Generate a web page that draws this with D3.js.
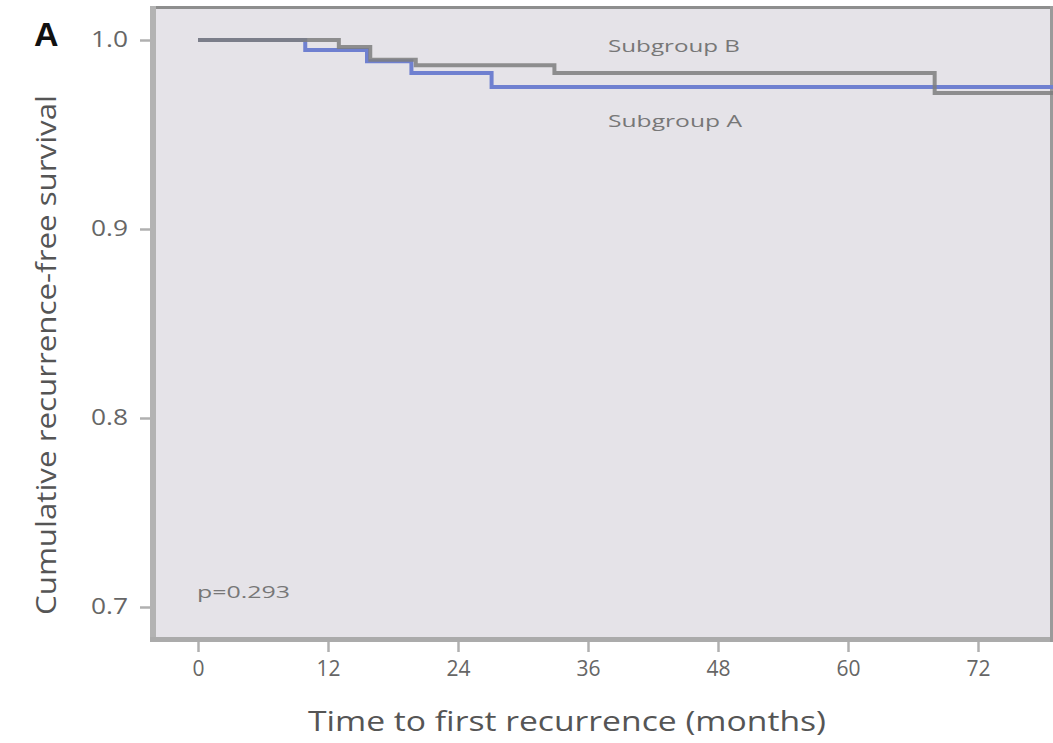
<!DOCTYPE html>
<html>
<head>
<meta charset="utf-8">
<script src="https://cdn.jsdelivr.net/npm/d3@7"></script>
<style>
  html, body { margin: 0; padding: 0; background: #fff; }
  svg { display: block; }
  text { font-family: "Open Sans", "Noto Sans", sans-serif; }
</style>
</head>
<body>
<svg id="chart" width="1053" height="743"></svg>
<script>
// ---- data ----
const timesA = [0, 9.9, 15.6, 19.7, 27.1];
const survA  = [1.0, 0.9947, 0.9887, 0.9825, 0.9751];
const timesB = [0, 13.0, 15.9, 20.1, 32.9, 68.0];
const survB  = [1.0, 0.9963, 0.9895, 0.9866, 0.9825, 0.9720];
const followUpEnd = 80;
const xTicks = [0, 12, 24, 36, 48, 60, 72];
const yTicks = [0.7, 0.8, 0.9, 1.0];
const seriesNames = ["Subgroup A", "Subgroup B"];
const pValueLabel = "p=0.293";

// ---- layout ----
const svg = d3.select("#chart");
const plot = { left: 155, right: 1053, top: 8, bottom: 640 };
const x = d3.scaleLinear().domain([0, 72]).range([198, 978]);
const y = d3.scaleLinear().domain([0.7, 1.0]).range([607, 40]);

svg.append("defs").append("clipPath").attr("id", "clip")
  .append("rect").attr("x", plot.left).attr("y", plot.top)
  .attr("width", plot.right - plot.left).attr("height", plot.bottom - plot.top);

// background
svg.append("rect").attr("x", plot.left).attr("y", plot.top)
  .attr("width", plot.right - plot.left).attr("height", plot.bottom - plot.top)
  .attr("fill", "#e5e3e8");

// frame
svg.append("line").attr("x1", 150).attr("x2", 1053).attr("y1", 7.5).attr("y2", 7.5)
  .attr("stroke", "#8e8e8e").attr("stroke-width", 3);
svg.append("line").attr("x1", 153).attr("x2", 153).attr("y1", 6).attr("y2", 642)
  .attr("stroke", "#b3b3b3").attr("stroke-width", 6);
svg.append("line").attr("x1", 150).attr("x2", 1053).attr("y1", 639.5).attr("y2", 639.5)
  .attr("stroke", "#ababab").attr("stroke-width", 5);
svg.append("line").attr("x1", 1051.5).attr("x2", 1051.5).attr("y1", 6).attr("y2", 642)
  .attr("stroke", "#9a9a9a").attr("stroke-width", 3);

// axes
const yAxis = svg.append("g").attr("transform", "translate(150,0)")
  .call(d3.axisLeft(y).tickValues(yTicks).tickFormat(d3.format(".1f")).tickSize(10).tickPadding(12));
yAxis.select(".domain").remove();
yAxis.selectAll(".tick line").attr("stroke", "#b0b0b0").attr("stroke-width", 2.5);
yAxis.selectAll(".tick text").attr("fill", "#666").attr("font-size", 21)
  .attr("textLength", 37).attr("lengthAdjust", "spacingAndGlyphs");

const xAxis = svg.append("g").attr("transform", "translate(0,642)")
  .call(d3.axisBottom(x).tickValues(xTicks).tickFormat(d3.format("d")).tickSize(10).tickPadding(9));
xAxis.select(".domain").remove();
xAxis.selectAll(".tick line").attr("stroke", "#b0b0b0").attr("stroke-width", 2.5);
xAxis.selectAll(".tick text").attr("fill", "#666").attr("font-size", 21);

// curves
const line = d3.line().x(d => x(d[0])).y(d => y(d[1])).curve(d3.curveStepAfter);
function pts(ts, ss) {
  const p = ts.map((t, i) => [t, ss[i]]);
  p.push([followUpEnd, ss[ss.length - 1]]);
  return p;
}
const g = svg.append("g").attr("clip-path", "url(#clip)");
g.append("path").datum(pts(timesA, survA))
  .attr("d", line).attr("fill", "none").attr("stroke", "#6f80d0").attr("stroke-width", 4);
g.append("path").datum(pts(timesB, survB))
  .attr("d", line).attr("fill", "none").attr("stroke", "#7e7e7e").attr("stroke-width", 4)
  .attr("stroke-opacity", 0.85);

// labels
svg.append("text").attr("x", 608).attr("y", 52).attr("font-size", 16).attr("fill", "#777")
  .attr("textLength", 132).attr("lengthAdjust", "spacingAndGlyphs").text(seriesNames[1]);
svg.append("text").attr("x", 608).attr("y", 127).attr("font-size", 16).attr("fill", "#777")
  .attr("textLength", 134).attr("lengthAdjust", "spacingAndGlyphs").text(seriesNames[0]);
svg.append("text").attr("x", 197).attr("y", 598).attr("font-size", 16).attr("fill", "#777")
  .attr("textLength", 93).attr("lengthAdjust", "spacingAndGlyphs").text(pValueLabel);

svg.append("text").attr("x", 34).attr("y", 46).attr("font-size", 34).attr("font-weight", "bold")
  .attr("fill", "#111").style("font-family", "'Liberation Sans', Arial, sans-serif").text("A");

svg.append("text").attr("x", 308).attr("y", 731).attr("font-size", 28).attr("fill", "#555")
  .attr("textLength", 518).attr("lengthAdjust", "spacingAndGlyphs")
  .text("Time to first recurrence (months)");

svg.append("text").attr("transform", "translate(56,355) rotate(-90)")
  .attr("text-anchor", "middle").attr("font-size", 28).attr("fill", "#555")
  .attr("textLength", 520).attr("lengthAdjust", "spacingAndGlyphs")
  .text("Cumulative recurrence-free survival");
</script>
</body>
</html>
